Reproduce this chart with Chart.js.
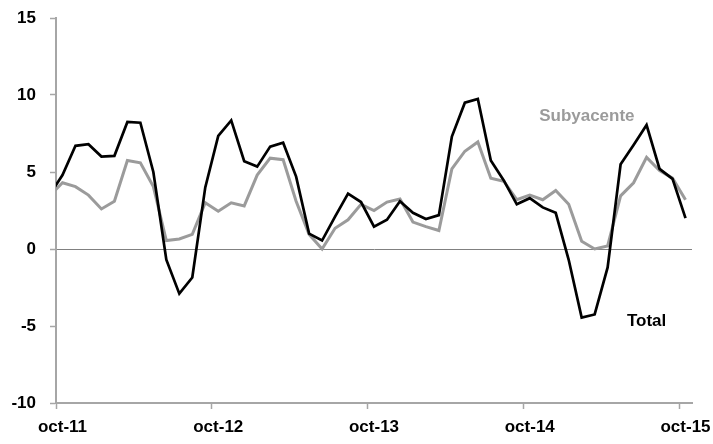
<!DOCTYPE html>
<html>
<head>
<meta charset="utf-8">
<script src="https://cdn.jsdelivr.net/npm/chart.js@4.4.0/dist/chart.umd.min.js"></script>
<style>
  body { margin: 0; background: #fff; }
  #wrap { width: 713px; height: 444px; }
</style>
</head>
<body>
<div id="wrap"><canvas id="ipcChart" width="713" height="444"></canvas></div>
<script>
// Monthly values, sep-11 .. oct-15 (sep-11 only shows as the clipped first segment)
const total = [
  3.5,
  4.8, 6.7, 6.8,
  6.0, 6.05, 8.25, 8.2, 5.0, -0.7, -2.9, -1.85, 4.0, 7.35, 8.35, 5.7,
  5.35, 6.65, 6.9, 4.7, 1.0, 0.55, 2.1, 3.6, 3.05, 1.45, 1.9, 3.1,
  2.35, 1.95, 2.2, 7.3, 9.5, 9.75, 5.75, 4.45, 2.9, 3.3, 2.7, 2.35,
  -0.7, -4.45, -4.25, -1.2, 5.5, 6.75, 8.05, 5.2, 4.55, 2.0
];
const subyacente = [
  3.45,
  4.3, 4.05, 3.5,
  2.6, 3.1, 5.75, 5.6, 4.05, 0.55, 0.65, 0.95, 3.0, 2.45, 3.0, 2.8,
  4.8, 5.9, 5.8, 3.1, 0.95, 0.0, 1.35, 1.9, 2.9, 2.5, 3.05, 3.25,
  1.75, 1.45, 1.2, 5.2, 6.35, 6.95, 4.6, 4.4, 3.2, 3.5, 3.2, 3.8,
  2.9, 0.5, 0.0, 0.2, 3.45, 4.3, 5.95, 5.1, 4.6, 3.2
];

// x axis: months counted from oct-11, ticks at the start of each october
const tickPositions = [0, 12, 24, 36, 48];
const tickLabels = ['oct-11', 'oct-12', 'oct-13', 'oct-14', 'oct-15'];

// series labels placed in data units
const notes = [
  { text: 'Subyacente', x: 40.9, y: 8.6, color: '#9b9b9b' },
  { text: 'Total', x: 45.5, y: -4.7, color: '#000000' }
];

// points sit mid-month; index 0 is sep-11
const toPoints = arr => arr.map((v, i) => ({ x: i - 0.5, y: v }));

const axisGray = '#a6a6a6';
const tickFont = { family: "'Liberation Sans', Arial, sans-serif", size: 17, weight: 'bold' };

const notesPlugin = {
  id: 'notes',
  afterDatasetsDraw(chart) {
    const { ctx, scales } = chart;
    ctx.save();
    ctx.font = "bold 17px 'Liberation Sans', Arial, sans-serif";
    ctx.textAlign = 'center';
    ctx.textBaseline = 'middle';
    notes.forEach(n => {
      ctx.fillStyle = n.color;
      ctx.fillText(n.text, scales.x.getPixelForValue(n.x), scales.y.getPixelForValue(n.y));
    });
    ctx.restore();
  }
};

new Chart(document.getElementById('ipcChart').getContext('2d'), {
  type: 'line',
  data: {
    datasets: [
      {
        label: 'Total',
        data: toPoints(total),
        borderColor: '#000000',
        borderWidth: 2.7,
        pointRadius: 0,
        tension: 0
      },
      {
        label: 'Subyacente',
        data: toPoints(subyacente),
        borderColor: '#9b9b9b',
        borderWidth: 3,
        pointRadius: 0,
        tension: 0
      }
    ]
  },
  options: {
    responsive: false,
    animation: false,
    layout: { padding: { top: 18, right: 21, left: 0, bottom: 0 } },
    plugins: {
      legend: { display: false },
      tooltip: { enabled: false }
    },
    scales: {
      x: {
        type: 'linear',
        min: 0,
        max: 49,
        afterBuildTicks: scale => {
          scale.ticks = tickPositions.map(v => ({ value: v }));
        },
        afterFit: scale => {
          scale.height = 41;
          scale.paddingLeft = 0;
          scale.paddingRight = 0;
        },
        ticks: {
          autoSkip: false,
          maxRotation: 0,
          labelOffset: 6.5,
          padding: 8,
          color: '#000',
          font: tickFont,
          callback: (v, i) => tickLabels[i]
        },
        grid: {
          drawOnChartArea: false,
          tickLength: 6,
          tickColor: axisGray,
          tickWidth: 1.5
        },
        border: { color: axisGray, width: 2 }
      },
      y: {
        min: -10,
        max: 15,
        afterFit: scale => {
          scale.width = 56;
          scale.paddingTop = 0;
          scale.paddingBottom = 0;
        },
        ticks: {
          stepSize: 5,
          padding: 14,
          color: '#000',
          font: tickFont
        },
        grid: {
          color: ctx => (ctx.tick && ctx.tick.value === 0 ? '#808080' : 'rgba(0,0,0,0)'),
          lineWidth: 1,
          tickLength: 6,
          tickColor: axisGray,
          tickWidth: 1.5
        },
        border: { color: axisGray, width: 2 }
      }
    }
  },
  plugins: [notesPlugin]
});
</script>
</body>
</html>
